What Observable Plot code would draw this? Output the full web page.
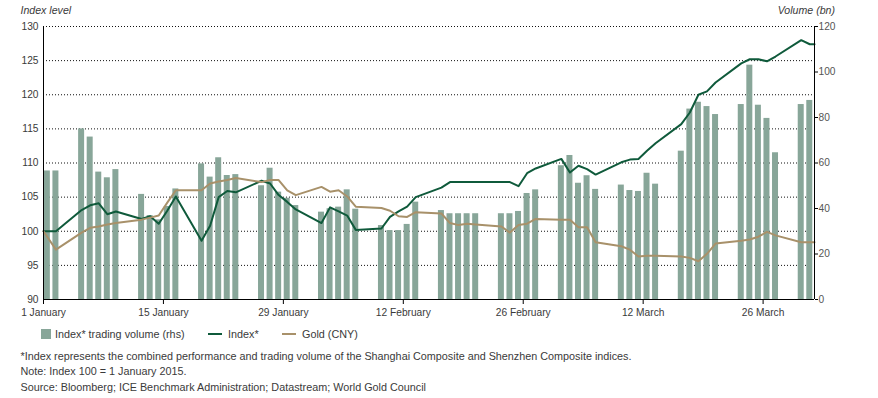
<!DOCTYPE html>
<html>
<head>
<meta charset="utf-8">
<script src="https://cdn.jsdelivr.net/npm/d3@7"></script>
<script src="https://cdn.jsdelivr.net/npm/@observablehq/plot@0.6"></script>
<style>
  html, body { margin: 0; padding: 0; background: #fff; }
  body { width: 878px; height: 398px; overflow: hidden; font-family: "Liberation Sans", Arial, sans-serif; color: #3a3a3a; }
  #wrap { position: relative; width: 878px; height: 398px; }
  .ttl { position: absolute; top: 4px; font-size: 10.6px; font-style: italic; color: #3a3a3a; }
  #legend { position: absolute; top: 327px; left: 0; width: 878px; height: 14px; font-size: 10.8px; }
  #legend span { position: absolute; top: 0; line-height: 14px; white-space: nowrap; }
  .sw { position: absolute; }
  .note { position: absolute; left: 20.5px; font-size: 10.8px; white-space: nowrap; color: #3a3a3a; }
</style>
</head>
<body>
<div id="wrap">
  <div id="chart"></div>
  <div class="ttl" style="left:20.5px">Index level</div>
  <div class="ttl" style="right:43px">Volume (bn)</div>
  <div id="legend"></div>
  <div class="note" style="top:350px">*Index represents the combined performance and trading volume of the Shanghai Composite and Shenzhen Composite indices.</div>
  <div class="note" style="top:365px">Note: Index 100 = 1 January 2015.</div>
  <div class="note" style="top:381px">Source: Bloomberg; ICE Benchmark Administration; Datastream; World Gold Council</div>
</div>
<script>
// ---- data ----
const dates = [
  "2015-01-01","2015-01-02","2015-01-05","2015-01-06","2015-01-07","2015-01-08","2015-01-09",
  "2015-01-12","2015-01-13","2015-01-14","2015-01-15","2015-01-16",
  "2015-01-19","2015-01-20","2015-01-21","2015-01-22","2015-01-23",
  "2015-01-26","2015-01-27","2015-01-28","2015-01-29","2015-01-30",
  "2015-02-02","2015-02-03","2015-02-04","2015-02-05","2015-02-06",
  "2015-02-09","2015-02-10","2015-02-11","2015-02-12","2015-02-13",
  "2015-02-16","2015-02-17","2015-02-18","2015-02-19","2015-02-20",
  "2015-02-23","2015-02-24","2015-02-25","2015-02-26","2015-02-27",
  "2015-03-02","2015-03-03","2015-03-04","2015-03-05","2015-03-06",
  "2015-03-09","2015-03-10","2015-03-11","2015-03-12","2015-03-13",
  "2015-03-16","2015-03-17","2015-03-18","2015-03-19","2015-03-20",
  "2015-03-23","2015-03-24","2015-03-25","2015-03-26","2015-03-27",
  "2015-03-30","2015-03-31"
];
const volume = [
  56.5, 56.5, 75.0, 71.4, 56.0, 53.5, 57.1,
  46.2, 36.9, 35.0, 40.9, 48.6,
  59.6, 53.8, 62.3, 54.5, 54.9,
  50.0, 57.7, 47.2, 44.5, 41.3,
  38.4, 39.9, 40.6, 48.2, 39.7,
  32.5, 30.3, 30.3, 33.0, 42.8,
  39.1, 37.7, 37.7, 37.7, 37.7,
  37.7, 37.7, 38.7, 46.6, 48.2,
  58.8, 63.3, 51.1, 54.4, 48.4,
  50.3, 47.9, 47.5, 55.5, 50.7,
  65.2, 83.7, 86.7, 84.8, 81.3,
  85.7, 103.0, 85.4, 79.6, 64.5,
  85.7, 87.5
];
const indexLevel = [
  100.0, 100.0, 103.1, 103.8, 104.1, 102.5, 102.9,
  101.8, 102.2, 101.1, 103.0, 105.1,
  98.6, 100.8, 105.0, 105.9, 105.7,
  107.4, 107.0, 105.3, 104.3, 103.2,
  101.2, 103.5, 102.9, 102.3, 100.2,
  100.4, 102.1, 102.9, 103.6, 105.0,
  106.4, 107.2, 107.2, 107.2, 107.2,
  107.2, 107.2, 106.6, 108.5, 109.2,
  110.6, 108.6, 109.6, 109.1, 108.3,
  110.1, 110.5, 110.6, 111.8, 112.9,
  115.7, 117.4, 120.0, 120.5, 121.8,
  124.6, 125.2, 125.2, 124.9, 125.6,
  128.0, 127.4
];
const goldCNY = [
  100.0, 97.3, 99.8, 100.5, 100.7, 101.0, 101.2,
  101.7, 102.0, 102.3, 104.2, 106.0,
  106.0, 107.0, 107.3, 107.5, 107.8,
  107.2, 107.5, 107.5, 106.0, 105.3,
  106.5, 105.8, 106.0, 105.1, 103.6,
  103.4, 103.0, 102.2, 102.1, 102.8,
  102.6, 101.2, 100.9, 101.1, 101.0,
  100.7, 99.8, 100.9, 101.1, 101.8,
  101.7, 101.7, 100.6, 100.6, 98.4,
  97.8, 97.3, 96.3, 96.4, 96.4,
  96.3, 96.1, 95.6, 96.7, 98.2,
  98.6, 98.8, 99.2, 99.9, 99.4,
  98.4, 98.4
];
const leftTicks = [90, 95, 100, 105, 110, 115, 120, 125, 130];
const gridTicks = [95, 100, 105, 110, 115, 120, 125, 130];
const volTicks = [0, 20, 40, 60, 80, 100, 120];
const xTickDates = ["2015-01-01","2015-01-15","2015-01-29","2015-02-12","2015-02-26","2015-03-12","2015-03-26"];
const xTickLabels = ["1 January","15 January","29 January","12 February","26 February","12 March","26 March"];

// ---- build ----
const DAY = 864e5;
const xStart = new Date("2015-01-01"), xEnd = new Date("2015-04-01");
const rows = dates.map((d, i) => ({date: new Date(d), vol: volume[i], idx: indexLevel[i], gold: goldCNY[i]}));
const shift = (d, f) => new Date(+d + f * DAY);
const lineRows = rows.map((r, i) => ({...r, lx: i === 0 ? r.date : shift(r.date, 0.45)}));
lineRows.push({...rows[rows.length - 1], lx: xEnd});
const volToY = v => 90 + v * 40 / 120;
const labelMap = new Map(xTickDates.map((d, i) => [+new Date(d), xTickLabels[i]]));

const C_BAR = "#88a699", C_IDX = "#0f5a3b", C_GOLD = "#a8916a";

const chart = Plot.plot({
  width: 878, height: 320,
  marginTop: 26, marginBottom: 21, marginLeft: 43, marginRight: 64,
  style: {fontFamily: "'Liberation Sans', Arial, sans-serif", fontSize: "10.2px", color: "#3a3a3a", background: "white"},
  x: {type: "utc", domain: [xStart, xEnd]},
  y: {domain: [90, 130]},
  marks: [
    Plot.ruleY(gridTicks, {stroke: "#111", strokeWidth: 1, strokeDasharray: "1,2"}),
    Plot.rect(rows, {x1: d => shift(d.date, 0.1), x2: d => shift(d.date, 0.8), y1: 90, y2: d => volToY(d.vol), fill: C_BAR}),
    Plot.line(lineRows, {x: "lx", y: "idx", stroke: C_IDX, strokeWidth: 2}),
    Plot.line(lineRows, {x: "lx", y: "gold", stroke: C_GOLD, strokeWidth: 2}),
    Plot.ruleX([xStart], {stroke: "#000", strokeWidth: 1}),
    Plot.ruleX([xEnd], {stroke: "#000", strokeWidth: 1}),
    Plot.ruleY([90], {stroke: "#000", strokeWidth: 1}),
    Plot.axisX({ticks: xTickDates.map(d => new Date(d)), tickFormat: d => labelMap.get(+d), tickSize: 5, tickPadding: 4, label: null, stroke: "#000"}),
    Plot.axisY({anchor: "left", ticks: leftTicks, tickSize: 0, tickPadding: 5, label: null}),
    Plot.axisY({anchor: "right", ticks: volTicks.map(volToY), tickFormat: d => String(Math.round((d - 90) * 3)), tickSize: 3, tickPadding: 1, label: null, fill: "#555", stroke: "#000"})
  ]
});
document.getElementById("chart").append(chart);

// ---- legend ----
const legend = document.getElementById("legend");
legend.innerHTML =
  `<div class="sw" style="left:41px;top:2px;width:10px;height:10px;background:${C_BAR}"></div>` +
  `<span style="left:55px">Index* trading volume (rhs)</span>` +
  `<div class="sw" style="left:208px;top:6px;width:14px;height:2px;background:${C_IDX}"></div>` +
  `<span style="left:228px">Index*</span>` +
  `<div class="sw" style="left:282px;top:6px;width:14px;height:2px;background:${C_GOLD}"></div>` +
  `<span style="left:302px">Gold (CNY)</span>`;
</script>
</body>
</html>
